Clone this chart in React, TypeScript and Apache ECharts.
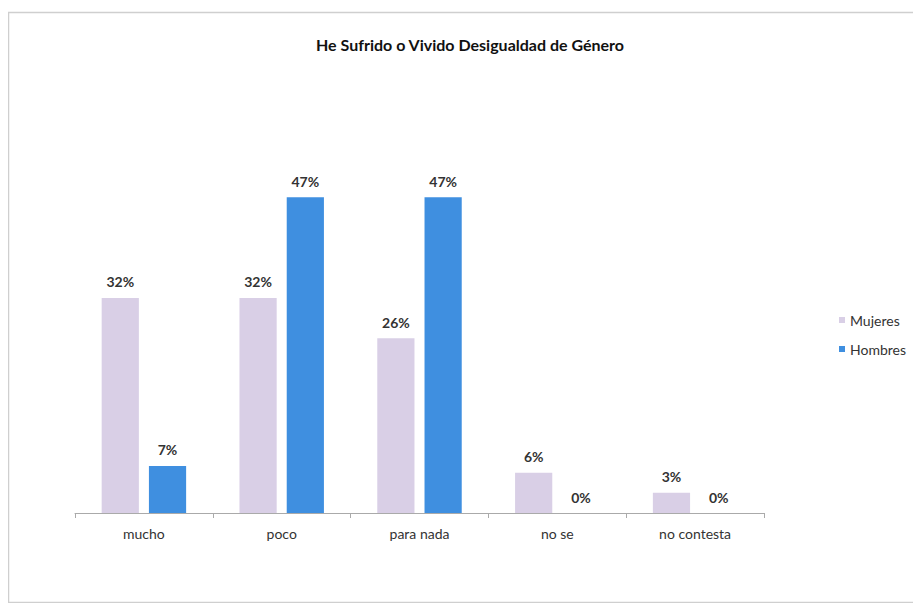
import React, { useEffect, useRef } from "react";
import * as echarts from "echarts";

const categories = ["mucho", "poco", "para nada", "no se", "no contesta"];
const mujeres = [32, 32, 26, 6, 3];
const hombres = [7, 47, 47, 0, 0];
const seriesNames = ["Mujeres", "Hombres"];
const titleText = "He Sufrido o Vivido Desigualdad de Género";

const FONT = "Lato, 'Open Sans', sans-serif";

export default function App() {
  const ref = useRef<HTMLDivElement>(null);
  useEffect(() => {
    if (!ref.current) return;
    const chart = echarts.init(ref.current, undefined, { renderer: "svg" });
    const label = {
      show: true,
      position: "top",
      distance: 9,
      formatter: "{c}%",
      fontFamily: FONT,
      fontSize: 14,
      fontWeight: "bold",
      color: "#333",
    };
    chart.setOption({
      animation: false,
      backgroundColor: "#fff",
      graphic: [
        {
          type: "rect",
          shape: { x: 0.5, y: 4.5, width: 911, height: 590 },
          style: { fill: "none", stroke: "#cfcfcf", lineWidth: 1.5 },
          silent: true,
        },
      ],
      title: {
        text: titleText,
        left: 457,
        textAlign: "center",
        top: 23,
        textStyle: { fontFamily: FONT, fontSize: 16, fontWeight: "bold", color: "#111" },
      },
      legend: {
        orient: "vertical",
        left: 826,
        top: 300,
        itemWidth: 6,
        itemHeight: 6,
        itemGap: 15,
        icon: "rect",
        data: seriesNames,
        textStyle: { fontFamily: FONT, fontSize: 14, color: "#333" },
      },
      grid: { left: 67, right: 157, top: 169, height: 336 },
      xAxis: {
        type: "category",
        data: categories,
        axisLine: { lineStyle: { color: "#aaa" } },
        axisTick: { show: true, length: 5, lineStyle: { color: "#aaa" } },
        axisLabel: { fontFamily: FONT, fontSize: 14, color: "#333", margin: 13 },
      },
      yAxis: {
        type: "value",
        min: 0,
        max: 50,
        show: false,
        splitLine: { show: false },
      },
      series: [
        {
          name: seriesNames[0],
          type: "bar",
          data: mujeres,
          barWidth: "27%",
          barGap: "27%",
          itemStyle: { color: "#d9cfe6" },
          label,
        },
        {
          name: seriesNames[1],
          type: "bar",
          data: hombres,
          barWidth: "27%",
          itemStyle: { color: "#3f8fe0" },
          label,
        },
      ],
    });
    return () => chart.dispose();
  }, []);
  return <div ref={ref} style={{ width: 913, height: 595 }} />;
}
